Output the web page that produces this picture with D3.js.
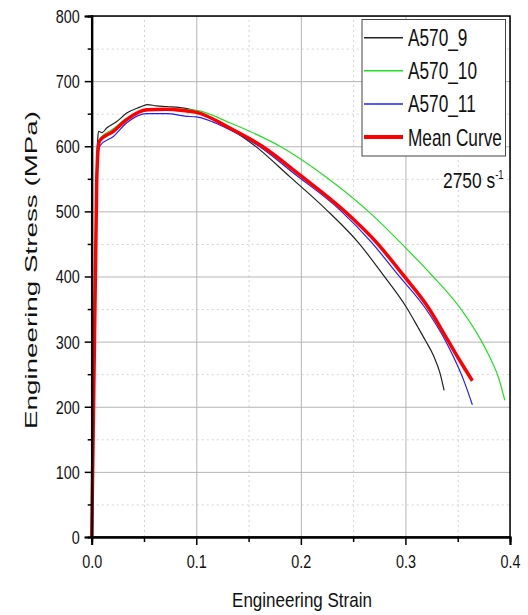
<html>
  <head>
    <title>A570 stress-strain</title>
    <script src="https://d3js.org/d3.v7.min.js"></script>
  </head>

  <body>
    <svg id="chart" width="528" height="615"></svg>
    <script>
      // series data, [strain, stress in MPa]
      const seriesNames = ['A570_9', 'A570_10', 'A570_11', 'Mean Curve'];
      const seriesColors = ['#222222', '#22e022', '#1f1fff', '#ff0000'];
      const seriesWidths = [1.2, 1.2, 1.2, 3.5];

      const a570_9 = [[0,0],[0.0045,555],[0.0058,612],[0.0065,623],[0.01,621],[0.0143,628],[0.024,638],
        [0.0335,651],[0.046,660],[0.053,664],[0.062,662],[0.072,661],[0.091,658],[0.1,654],[0.115,643],
        [0.129,630],[0.155,602],[0.1896,553],[0.2247,502],[0.255,452],[0.2789,402],[0.3012,352],
        [0.312,322],[0.319,302],[0.327,278],[0.333,252],[0.337,225]];
      const a570_10 = [[0,0],[0.0048,550],[0.0063,605],[0.008,612],[0.02,626],[0.035,645],[0.055,655],
        [0.075,657],[0.1,655],[0.132,636],[0.151,623],[0.18,600],[0.2247,552],[0.268,495],[0.2965,450],
        [0.3264,400],[0.354,348],[0.373,300],[0.3825,270],[0.389,245],[0.395,210]];
      const a570_11 = [[0,0],[0.005,545],[0.0068,595],[0.008,601],[0.0207,615],[0.0335,636],[0.0526,650],
        [0.0717,650],[0.091,646],[0.1,645],[0.13,627],[0.16,600],[0.1944,557],[0.2375,502],[0.2678,452],
        [0.2932,402],[0.3188,352],[0.338,302],[0.3458,277],[0.3554,242],[0.364,203]];
      const meanCurve = [[0,0],[0.0048,548],[0.0063,600],[0.0075,608],[0.0207,623],[0.0335,641],[0.0526,656],
        [0.0717,657],[0.091,654],[0.1,652],[0.132,628],[0.163,600],[0.199,556],[0.2406,502],[0.2725,452],
        [0.298,402],[0.322,352],[0.3395,305],[0.352,271],[0.364,240]];
      const allSeries = [a570_9, a570_10, a570_11, meanCurve];

      const xTicks = [0, 0.1, 0.2, 0.3, 0.4];
      const xMinor = [0.05, 0.15, 0.25, 0.35];
      const yTicks = [0, 100, 200, 300, 400, 500, 600, 700, 800];
      const yMinor = [50, 150, 250, 350, 450, 550, 650, 750];

      const svg = d3.select('svg#chart');
      const width = svg.attr('width');
      const height = svg.attr('height');
      const margins = {top: 16, right: 18, bottom: 78, left: 91.7};
      const chartWidth = width - margins.left - margins.right;
      const chartHeight = height - margins.top - margins.bottom;

      const xScale = d3.scaleLinear().domain([0, 0.4]).range([margins.left, margins.left + chartWidth]);
      const yScale = d3.scaleLinear().domain([0, 800]).range([margins.top + chartHeight, margins.top]);

      svg.append('rect').attr('width', width).attr('height', height).attr('fill', 'white');

      //minor gridlines (dotted)
      svg.append('g').attr('class', 'minor grid')
        .attr('transform', `translate(0,${margins.top + chartHeight})`)
        .call(d3.axisBottom(xScale).tickValues(xMinor).tickSize(-chartHeight).tickFormat(''));
      svg.append('g').attr('class', 'minor grid')
        .attr('transform', `translate(${margins.left},0)`)
        .call(d3.axisLeft(yScale).tickValues(yMinor).tickSize(-chartWidth).tickFormat(''));

      //major gridlines
      svg.append('g').attr('class', 'major grid')
        .attr('transform', `translate(0,${margins.top + chartHeight})`)
        .call(d3.axisBottom(xScale).tickValues(xTicks).tickSize(-chartHeight).tickFormat(''));
      svg.append('g').attr('class', 'major grid')
        .attr('transform', `translate(${margins.left},0)`)
        .call(d3.axisLeft(yScale).tickValues(yTicks).tickSize(-chartWidth).tickFormat(''));

      //curves
      const line = d3.line()
        .x(d => xScale(d[0]))
        .y(d => yScale(d[1]))
        .curve(d3.curveMonotoneX);
      allSeries.forEach((s, i) => {
        svg.append('path')
          .datum(s)
          .attr('d', line)
          .attr('fill', 'none')
          .attr('stroke', seriesColors[i])
          .attr('stroke-width', seriesWidths[i])
          .attr('stroke-linejoin', 'round');
      });

      //frame
      svg.append('rect')
        .attr('x', margins.left).attr('y', margins.top)
        .attr('width', chartWidth).attr('height', chartHeight)
        .attr('fill', 'none').attr('stroke', 'black').attr('stroke-width', 1.5);

      //minor ticks
      svg.append('g').attr('class', 'axis')
        .attr('transform', `translate(0,${margins.top + chartHeight})`)
        .call(d3.axisBottom(xScale).tickValues(xMinor).tickSize(5).tickFormat(''));
      svg.append('g').attr('class', 'axis')
        .attr('transform', `translate(${margins.left},0)`)
        .call(d3.axisLeft(yScale).tickValues(yMinor).tickSize(4).tickFormat(''));

      //main axes
      let bottomAxis = svg.append('g').attr('class', 'axis')
        .attr('transform', `translate(0,${margins.top + chartHeight})`)
        .call(d3.axisBottom(xScale).tickValues(xTicks).tickSize(8).tickFormat(d3.format('.1f')));
      bottomAxis.selectAll('text')
        .attr('y', 0).attr('dy', 0)
        .attr('transform', 'translate(0,31) scale(0.8,1)');

      let leftAxis = svg.append('g').attr('class', 'axis')
        .attr('transform', `translate(${margins.left},0)`)
        .call(d3.axisLeft(yScale).tickValues(yTicks).tickSize(7));
      leftAxis.selectAll('text')
        .attr('x', 0).attr('dy', '0.36em')
        .attr('transform', 'translate(-12,0) scale(0.8,1)');

      //axis titles
      svg.append('text')
        .attr('class', 'title')
        .attr('text-anchor', 'middle')
        .attr('font-size', 21)
        .attr('transform', 'translate(302,607) scale(0.81,1)')
        .text('Engineering Strain');
      svg.append('text')
        .attr('class', 'title')
        .attr('text-anchor', 'middle')
        .attr('font-size', 21)
        .attr('textLength', 318)
        .attr('lengthAdjust', 'spacingAndGlyphs')
        .attr('transform', 'translate(37,270) scale(0.8,1) rotate(-90)')
        .text('Engineering Stress (MPa)');

      //legend
      let legend = svg.append('g');
      legend.append('rect')
        .attr('x', 362).attr('y', 19.5).attr('width', 143.5).attr('height', 136.5)
        .attr('fill', 'white').attr('stroke', '#444').attr('stroke-width', 1);
      seriesNames.forEach((name, i) => {
        const cy = 37.7 + i * 33.1;
        legend.append('line')
          .attr('x1', 364).attr('x2', 403).attr('y1', cy).attr('y2', cy)
          .attr('stroke', seriesColors[i]).attr('stroke-width', seriesWidths[i] + 0.3);
        legend.append('text')
          .attr('class', 'title')
          .attr('font-size', 23)
          .attr('transform', `translate(408,${cy + 8.5}) scale(0.75,1)`)
          .text(name);
      });

      //strain rate note
      let note = svg.append('text')
        .attr('class', 'title')
        .attr('font-size', 22)
        .attr('transform', 'translate(443,188) scale(0.79,1)');
      note.append('tspan').text('2750 s');
      note.append('tspan').attr('font-size', 12).attr('dy', -9).text('-1');
    </script>
  </body>

  <style>
    body { margin: 0; }
    text, .axis text {
      font-family: "Liberation Sans", Arial, sans-serif;
      fill: #111;
    }
    .axis text { font-size: 18px; }
    .axis line, .axis .domain { stroke: black; stroke-width: 1.5; }
    .axis .domain { stroke-width: 2; }
    .grid .domain { stroke: none; }
    .major.grid line { stroke: #b4b4b4; stroke-width: 1; }
    .minor.grid line { stroke: #d4d4d4; stroke-width: 1; stroke-dasharray: 2,3; }
  </style>
</html>
